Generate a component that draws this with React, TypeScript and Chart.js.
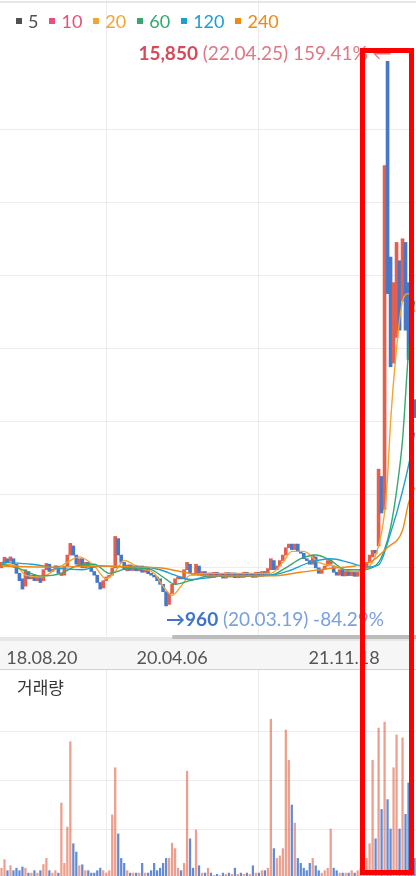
import React, { useEffect, useRef } from 'react';
import { Chart, registerables } from 'chart.js';

Chart.register(...registerables);

// ---------- data ----------
const opens = [
  2000, 2080, 2250, 2180, 2250, 2100, 1850, 1700, 1500, 1900,
  1700, 1800, 1650, 1750, 1650, 1950, 2100, 1900, 1950, 2050,
  1790, 1800, 2050, 2350, 2600, 2350, 2080, 2250, 2000, 2150,
  2050, 1900, 1800, 1600, 1450, 1650, 1750, 1800, 2000, 2800,
  2350, 2150, 1920, 2080, 1930, 2060, 1920, 2050, 1880, 2000,
  1850, 1800, 1750, 1700, 1550, 1350, 1000, 1300, 1550, 1700,
  1750, 1700, 1950, 2100, 1850, 1800, 2050, 1780, 1900, 1760,
  1860, 1740, 1880, 1760, 1850, 1720, 1870, 1750, 1860, 1730,
  1850, 1740, 1880, 1760, 1850, 1740, 1880, 1770, 1900, 1820,
  1950, 2200, 1950, 2050, 2200, 2350, 2550, 2650, 2500, 2650,
  2450, 2400, 2250, 2200, 2100, 2300, 2000, 1850, 1950, 2050,
  2100, 2050, 1880, 1800, 1950, 1780, 1900, 1790, 1880, 1770,
  1900, 1960, 2000, 2150, 2300, 2480, 2600, 4500, 3600, 15850,
  10500, 7600, 8300, 10400, 9300, 10900, 9800, 8400, 6600,
];

const closes = [
  2150, 2290, 2150, 2300, 2100, 1850, 1650, 1420, 1950, 1700,
  1800, 1650, 1750, 1600, 1950, 2120, 1900, 1960, 2060, 1850,
  1860, 2050, 2350, 2670, 2350, 2100, 2250, 2000, 2150, 2020,
  1900, 1800, 1600, 1420, 1650, 1750, 1800, 2000, 2860, 2350,
  2150, 1950, 2080, 1930, 2060, 1920, 2050, 1880, 2000, 1840,
  1800, 1750, 1650, 1550, 1350, 960, 1300, 1550, 1700, 1750,
  1700, 1950, 2150, 1850, 1800, 2100, 1800, 1900, 1760, 1860,
  1740, 1880, 1760, 1850, 1720, 1870, 1750, 1860, 1730, 1850,
  1740, 1880, 1760, 1850, 1740, 1880, 1770, 1900, 1820, 1980,
  2250, 1950, 2050, 2200, 2350, 2550, 2650, 2500, 2650, 2450,
  2400, 2250, 2200, 2100, 2350, 2000, 1850, 1950, 2050, 2200,
  2220, 1880, 1800, 1950, 1780, 1900, 1790, 1880, 1770, 1900,
  1960, 2060, 2150, 2350, 2480, 2400, 4700, 3500, 13000, 9500,
  7500, 9800, 10900, 8500, 11000, 8500, 7700, 6300, 6110,
];

// volume in millions of shares
const volumes = [
  0.4, 0.75, 0.3, 0.5, 0.3, 0.4, 0.3, 0.45, 0.4, 0.2,
  0.2, 0.3, 0.2, 0.3, 0.55, 0.8, 0.3, 0.2, 0.3, 0.2,
  3.06, 0.6, 2.08, 5.56, 1.4, 1.06, 0.5, 0.54, 0.3, 0.3,
  0.2, 0.2, 0.3, 0.4, 0.3, 0.2, 0.3, 2.58, 4.5, 1.8,
  0.8, 0.6, 0.3, 0.2, 0.2, 0.2, 0.2, 0.6, 0.2, 0.2,
  0.3, 0.6, 0.3, 0.4, 0.6, 0.8, 0.8, 1.42, 1.2, 0.4,
  0.3, 0.6, 4.36, 1.6, 0.4, 1.96, 0.5, 0.2, 0.2, 0.4,
  0.2, 0.1, 0.15, 0.1, 0.2, 0.15, 0.2, 0.15, 0.4, 0.15,
  0.2, 0.15, 0.2, 0.15, 0.5, 0.2, 0.2, 0.3, 0.3, 0.4,
  6.48, 1.2, 0.8, 0.9, 1.2, 6.04, 4.8, 2.98, 2.24, 0.8,
  0.6, 0.4, 0.3, 0.6, 0.8, 0.5, 0.3, 0.2, 0.3, 0.4,
  2.0, 0.4, 0.3, 0.2, 0.2, 0.2, 0.2, 0.3, 0.2, 0.3,
  0.4, 0.5, 0.8, 1.4, 4.8, 1.6, 6.12, 2.8, 6.36, 3.2,
  2.0, 4.5, 5.84, 2.0, 5.72, 2.6, 3.88, 1.2, 0.8,
];

// moving averages: [candle index, value]
const ma20 = [
  [0, 2100], [5, 2050], [8, 1800], [13, 1750], [18, 1950], [23, 2200], [26, 2300],
  [31, 2050], [35, 1700], [38, 1900], [41, 2200], [46, 2000], [51, 1850], [54, 1500],
  [57, 1250], [60, 1500], [63, 1800], [70, 1850], [90, 1850], [94, 2150], [97, 2450],
  [101, 2450], [106, 2150], [111, 2050], [118, 1900], [123, 2050], [126, 2600],
  [128, 3500], [129, 4500], [130, 6000], [132, 8000], [134, 9300], [136, 9500], [138, 9000],
];
const ma60 = [
  [0, 2100], [6, 1980], [13, 1780], [20, 1850], [25, 2050], [31, 2100], [36, 1850],
  [43, 2000], [50, 1950], [54, 1750], [58, 1550], [63, 1650], [70, 1780], [90, 1800],
  [95, 2000], [100, 2250], [105, 2350], [110, 2200], [115, 1950], [121, 1950],
  [126, 2150], [128, 2500], [130, 3100], [132, 4100], [134, 5500], [136, 7900], [138, 9300],
];
const ma120 = [
  [0, 2150], [10, 2100], [20, 1980], [27, 1950], [33, 2050], [40, 2030], [46, 2030],
  [53, 1950], [58, 1800], [63, 1680], [68, 1720], [76, 1790], [90, 1800], [96, 1920],
  [103, 2150], [110, 2250], [116, 2150], [122, 2020], [126, 2080], [130, 2950],
  [134, 4100], [137, 5200], [138, 5700],
];
const ma240 = [
  [0, 2050], [16, 2020], [33, 2050], [46, 2020], [54, 1990], [61, 1880], [70, 1780],
  [90, 1780], [100, 1880], [110, 1990], [118, 2050], [124, 2200], [129, 2560],
  [134, 3030], [136, 3770], [138, 4200],
];

const maPeriods = ['5', '10', '20', '60', '120', '240'];
const maColors = ['#505050', '#e6507a', '#f4a433', '#35a86e', '#1b9fd3', '#ef8a12'];

const xTickIdx = [13.5, 57, 114.5];
const xTickLabels = ['18.08.20', '20.04.06', '21.11.18'];
const priceGridValues = [2000, 4000, 6000, 8000, 10000, 12000, 14000];
const volumeGridValues = [2, 4, 6];
const maxDate = '22.04.25';
const minDate = '20.03.19';

// ---------- styles ----------
const RED = '#e5604c';
const BLUE = '#4677c8';
const VOL_RED = 'rgba(226, 98, 70, 0.62)';
const VOL_BLUE = 'rgba(60, 110, 200, 0.8)';
const GRID = '#ececec';
const FONT = 'Lato, "DejaVu Sans", sans-serif';

const idx = opens.map((_, i) => i);
const xMin = -0.5;
const xMax = opens.length - 0.5;

function hideFirst(c: any) {
  return c.index === 0 ? 'rgba(0,0,0,0)' : GRID;
}

const pricePlugin = {
  id: 'priceDecor',
  beforeDraw(chart: any) {
    const { ctx, chartArea } = chart;
    ctx.save();
    ctx.fillStyle = '#f6f6f6';
    ctx.fillRect(0, chartArea.bottom, chart.width, chart.height - chartArea.bottom);
    ctx.restore();
  },
  afterDatasetsDraw(chart: any) {
    const { ctx } = chart;
    const xs = chart.scales.x;
    const ys = chart.scales.y;
    let iMax = 0, vMax = -Infinity, iMin = 0, vMin = Infinity;
    idx.forEach((i) => {
      const hi = Math.max(opens[i], closes[i]);
      const lo = Math.min(opens[i], closes[i]);
      if (hi > vMax) { vMax = hi; iMax = i; }
      if (lo < vMin) { vMin = lo; iMin = i; }
    });
    const last = closes[closes.length - 1];
    const pMax = ((vMax / last - 1) * 100).toFixed(2) + '%';
    const pMin = ((vMin / last - 1) * 100).toFixed(2) + '%';

    ctx.save();
    ctx.textBaseline = 'middle';
    // max label
    const mx = xs.getPixelForValue(iMax);
    const my = ys.getPixelForValue(vMax) - 8;
    const rest = ` (${maxDate}) ${pMax} \u2190`;
    ctx.font = `19px ${FONT}`;
    const wRest = ctx.measureText(rest).width;
    ctx.textAlign = 'right';
    ctx.fillStyle = '#de7884';
    ctx.fillText(rest, mx + 4, my);
    ctx.font = `bold 19px ${FONT}`;
    ctx.fillStyle = '#d64a5a';
    ctx.fillText(vMax.toLocaleString('en-US'), mx + 4 - wRest, my);

    // min label
    const nx = xs.getPixelForValue(iMin);
    const ny = ys.getPixelForValue(vMin) + 14;
    ctx.textAlign = 'left';
    ctx.font = `bold 19px ${FONT}`;
    ctx.fillStyle = '#3f74c9';
    const head = `\u2192${vMin.toLocaleString('en-US')}`;
    ctx.fillText(head, nx, ny);
    const wHead = ctx.measureText(head).width;
    ctx.font = `19px ${FONT}`;
    ctx.fillStyle = '#78a0dc';
    ctx.fillText(` (${minDate}) ${pMin}`, nx + wHead, ny);
    ctx.restore();
  },
  afterDraw(chart: any) {
    const { ctx, chartArea } = chart;
    const b = chartArea.bottom;
    ctx.save();
    ctx.fillStyle = '#e6e6e6';
    ctx.fillRect(0, b - 4, chart.width, 4);
    ctx.fillStyle = '#bcbcbc';
    ctx.fillRect(chart.width * 0.414, b - 6, chart.width * 0.586, 4);
    ctx.fillStyle = '#d2d2d2';
    ctx.fillRect(0, chart.height - 1, chart.width, 1);
    ctx.restore();
  },
};

const volumePlugin = {
  id: 'volumeDecor',
  afterDraw(chart: any) {
    const { ctx } = chart;
    ctx.save();
    ctx.font = '17px "Noto Sans CJK KR", sans-serif';
    ctx.fillStyle = '#333';
    ctx.textBaseline = 'middle';
    ctx.textAlign = 'left';
    ctx.fillText('거래량', 17, 18);
    ctx.restore();
  },
};

function lineDs(points: number[][], color: string) {
  return {
    type: 'line' as const,
    data: points.map(([x, y]) => ({ x, y })),
    borderColor: color,
    borderWidth: 1.4,
    pointRadius: 0,
    cubicInterpolationMode: 'monotone' as const,
    fill: false,
    order: 1,
  };
}

function PriceChart() {
  const ref = useRef<HTMLCanvasElement>(null);
  useEffect(() => {
    const chart = new Chart(ref.current as HTMLCanvasElement, {
      type: 'bar',
      data: {
        datasets: [
          {
            type: 'bar',
            data: idx.map((i) => ({ x: i, y: [opens[i], closes[i]] })) as any,
            backgroundColor: idx.map((i) => (closes[i] >= opens[i] ? RED : BLUE)),
            barThickness: 3,
            order: 2,
          } as any,
          lineDs(ma240, maColors[5]),
          lineDs(ma120, maColors[4]),
          lineDs(ma60, maColors[3]),
          lineDs(ma20, maColors[2]),
        ],
      },
      options: {
        animation: false,
        responsive: false,
        maintainAspectRatio: false,
        layout: { padding: 0 },
        plugins: { legend: { display: false }, tooltip: { enabled: false } },
        scales: {
          x: {
            type: 'linear',
            min: xMin,
            max: xMax,
            offset: false,
            afterBuildTicks: (s: any) => { s.ticks = xTickIdx.map((v) => ({ value: v })); },
            afterFit: (s: any) => { s.height = 29; },
            ticks: {
              autoSkip: false,
              maxRotation: 0,
              padding: 6,
              color: '#555',
              font: { size: 18, family: FONT },
              callback: (_v: any, i: number) => xTickLabels[i],
            },
            grid: { drawTicks: false, color: hideFirst },
            border: { display: false },
          },
          y: {
            min: 0,
            max: 17530,
            afterBuildTicks: (s: any) => { s.ticks = priceGridValues.map((v) => ({ value: v })); },
            afterFit: (s: any) => { s.width = 0; },
            ticks: { display: false },
            grid: { drawTicks: false, color: GRID },
            border: { display: false },
          },
        },
      } as any,
      plugins: [pricePlugin],
    });
    return () => chart.destroy();
  }, []);
  return (
    <canvas
      ref={ref}
      width={416}
      height={670}
      style={{ position: 'absolute', left: 0, top: 0, width: 416, height: 670 }}
    />
  );
}

function VolumeChart() {
  const ref = useRef<HTMLCanvasElement>(null);
  useEffect(() => {
    const chart = new Chart(ref.current as HTMLCanvasElement, {
      type: 'bar',
      data: {
        datasets: [
          {
            data: idx.map((i) => ({ x: i, y: volumes[i] })) as any,
            backgroundColor: idx.map((i) => (closes[i] >= opens[i] ? VOL_RED : VOL_BLUE)),
            barThickness: 1.6,
          } as any,
        ],
      },
      options: {
        animation: false,
        responsive: false,
        maintainAspectRatio: false,
        layout: { padding: 0 },
        plugins: { legend: { display: false }, tooltip: { enabled: false } },
        scales: {
          x: {
            type: 'linear',
            min: xMin,
            max: xMax,
            offset: false,
            afterBuildTicks: (s: any) => { s.ticks = xTickIdx.map((v) => ({ value: v })); },
            afterFit: (s: any) => { s.height = 0; },
            ticks: { display: false },
            grid: { drawTicks: false, color: hideFirst },
            border: { display: false },
          },
          y: {
            min: 0,
            max: 8.49,
            afterBuildTicks: (s: any) => { s.ticks = volumeGridValues.map((v) => ({ value: v })); },
            afterFit: (s: any) => { s.width = 0; },
            ticks: { display: false },
            grid: { drawTicks: false, color: GRID },
            border: { display: false },
          },
        },
      } as any,
      plugins: [volumePlugin],
    });
    return () => chart.destroy();
  }, []);
  return (
    <canvas
      ref={ref}
      width={416}
      height={208}
      style={{ position: 'absolute', left: 0, top: 670, width: 416, height: 208 }}
    />
  );
}

function Legend() {
  return (
    <div
      style={{
        position: 'absolute',
        left: 16,
        top: 10,
        display: 'flex',
        alignItems: 'center',
        fontFamily: FONT,
        fontSize: 18,
        lineHeight: '22px',
      }}
    >
      {maPeriods.map((p, i) => (
        <div key={p} style={{ display: 'flex', alignItems: 'center', marginRight: 11 }}>
          <span
            style={{
              display: 'inline-block',
              width: 6,
              height: 6,
              background: maColors[i],
              marginRight: 6,
            }}
          />
          <span style={{ color: maColors[i] }}>{p}</span>
        </div>
      ))}
    </div>
  );
}

export default function App() {
  return (
    <div
      style={{
        position: 'absolute',
        left: 0,
        top: 0,
        width: 416,
        height: 876,
        overflow: 'hidden',
        background: '#fff',
      }}
    >
      <PriceChart />
      <VolumeChart />
      <div style={{ position: 'absolute', left: 0, top: 1, width: 416, height: 2, background: '#e6e6e6' }} />
      <Legend />
      <div
        style={{
          position: 'absolute',
          left: 360,
          top: 48,
          width: 54,
          height: 827,
          border: '5px solid #ff0000',
          boxSizing: 'border-box',
        }}
      />
    </div>
  );
}
